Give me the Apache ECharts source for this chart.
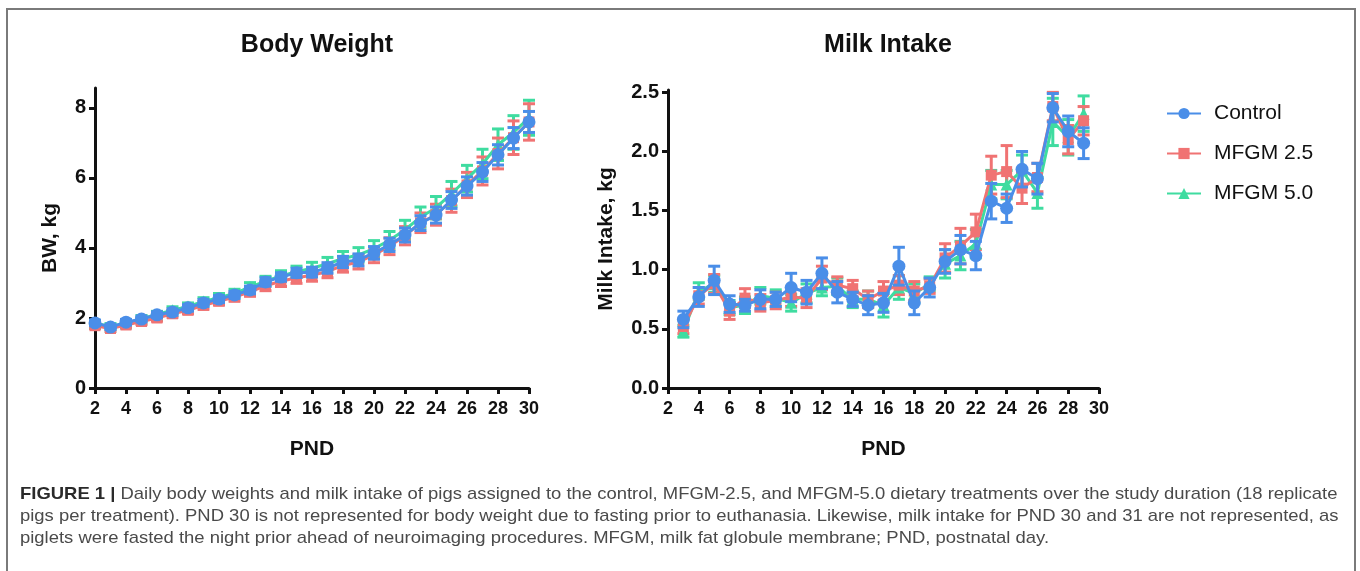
<!DOCTYPE html>
<html>
<head>
<meta charset="utf-8">
<script src="https://cdn.jsdelivr.net/npm/echarts@6/dist/echarts.min.js"></script>
<style>
  html,body{margin:0;padding:0;background:#fff;}
  #chart{width:1360px;height:571px;}
</style>
</head>
<body>
<div id="chart"></div>
<script>
// PND days
var bwDays = [2,3,4,5,6,7,8,9,10,11,12,13,14,15,16,17,18,19,20,21,22,23,24,25,26,27,28,29,30];
var milkDays = [3,4,5,6,7,8,9,10,11,12,13,14,15,16,17,18,19,20,21,22,23,24,25,26,27,28,29];

// body weight, kg (mean / sem)
var bwControl = [1.86,1.74,1.88,1.97,2.09,2.17,2.29,2.43,2.54,2.66,2.80,3.03,3.17,3.29,3.31,3.43,3.60,3.66,3.86,4.09,4.37,4.71,4.94,5.37,5.77,6.17,6.66,7.14,7.60];
var bwControlErr = [0.08,0.07,0.08,0.08,0.08,0.09,0.09,0.10,0.10,0.10,0.11,0.12,0.12,0.13,0.14,0.15,0.16,0.17,0.18,0.19,0.20,0.21,0.23,0.24,0.26,0.27,0.29,0.30,0.30];
var bwMfgm25 = [1.78,1.70,1.80,1.90,2.00,2.12,2.22,2.36,2.48,2.60,2.75,2.92,3.05,3.15,3.22,3.33,3.50,3.60,3.80,4.05,4.35,4.72,4.95,5.35,5.80,6.20,6.70,7.15,7.60];
var bwMfgm25Err = [0.08,0.08,0.08,0.09,0.09,0.10,0.10,0.11,0.11,0.12,0.13,0.14,0.15,0.16,0.17,0.18,0.19,0.20,0.22,0.24,0.26,0.28,0.30,0.33,0.36,0.40,0.44,0.48,0.52];
var bwMfgm50 = [1.85,1.76,1.84,1.98,2.10,2.22,2.33,2.47,2.58,2.70,2.88,3.05,3.20,3.32,3.42,3.55,3.70,3.80,3.98,4.22,4.52,4.88,5.15,5.55,5.98,6.40,6.95,7.30,7.72];
var bwMfgm50Err = [0.08,0.08,0.09,0.09,0.09,0.10,0.10,0.11,0.12,0.12,0.13,0.14,0.15,0.16,0.17,0.18,0.20,0.21,0.23,0.25,0.27,0.29,0.32,0.35,0.38,0.42,0.45,0.48,0.50];

// milk intake, kg (mean / sem)
var milkControl = [0.58,0.77,0.91,0.71,0.70,0.75,0.75,0.85,0.81,0.97,0.81,0.75,0.70,0.72,1.03,0.72,0.85,1.07,1.17,1.12,1.58,1.52,1.85,1.77,2.37,2.17,2.07];
var milkControlErr = [0.07,0.08,0.12,0.07,0.05,0.08,0.06,0.12,0.10,0.13,0.09,0.06,0.08,0.08,0.16,0.10,0.08,0.10,0.12,0.12,0.15,0.12,0.15,0.13,0.12,0.13,0.13];
var milkMfgm25 = [0.52,0.78,0.88,0.65,0.76,0.72,0.74,0.77,0.76,0.93,0.87,0.84,0.75,0.82,0.87,0.82,0.86,1.10,1.20,1.32,1.80,1.83,1.69,1.78,2.38,2.10,2.26];
var milkMfgm25Err = [0.06,0.07,0.08,0.07,0.08,0.07,0.07,0.08,0.08,0.10,0.07,0.07,0.07,0.08,0.08,0.08,0.06,0.12,0.15,0.15,0.16,0.22,0.13,0.12,0.12,0.12,0.12];
var milkMfgm50 = [0.48,0.82,0.88,0.68,0.70,0.78,0.76,0.72,0.80,0.85,0.86,0.75,0.75,0.70,0.85,0.80,0.88,1.05,1.12,1.22,1.72,1.72,1.84,1.65,2.25,2.12,2.32];
var milkMfgm50Err = [0.05,0.07,0.07,0.06,0.07,0.07,0.07,0.07,0.08,0.07,0.07,0.07,0.07,0.10,0.10,0.08,0.06,0.12,0.12,0.12,0.12,0.12,0.13,0.13,0.20,0.15,0.15];

var bwTicks = [0,2,4,6,8];
var milkTicks = [0,0.5,1.0,1.5,2.0,2.5];

var FONT = '"Liberation Sans", Arial, Helvetica, sans-serif';
var cBlue = '#4a8ee8', cRed = '#f07373', cGreen = '#3fdca0';

function pts(days, vals){
  var out = [];
  for (var i = 0; i < days.length; i++) out.push([days[i], vals[i]]);
  return out;
}
function bars(days, vals, errs){
  var out = [];
  for (var i = 0; i < days.length; i++) out.push([days[i], vals[i] - errs[i], vals[i] + errs[i]]);
  return out;
}
// error bar with caps
function errRender(color){
  return function(params, api){
    var x = api.value(0);
    var lo = api.coord([x, api.value(1)]);
    var hi = api.coord([x, api.value(2)]);
    var w = 6;
    var st = {stroke: color, lineWidth: 3};
    return {type: 'group', children: [
      {type: 'line', shape: {x1: lo[0], y1: lo[1], x2: hi[0], y2: hi[1]}, style: st},
      {type: 'line', shape: {x1: lo[0]-w, y1: lo[1], x2: lo[0]+w, y2: lo[1]}, style: st},
      {type: 'line', shape: {x1: hi[0]-w, y1: hi[1], x2: hi[0]+w, y2: hi[1]}, style: st}
    ]};
  };
}
function errSeries(name, idx, data, color, z){
  return {name: name, type: 'custom', xAxisIndex: idx, yAxisIndex: idx, data: data,
    renderItem: errRender(color), z: z, silent: true};
}
function lineSeries(name, idx, data, color, symbol, size, z){
  return {name: name, type: 'line', xAxisIndex: idx, yAxisIndex: idx, data: data,
    symbol: symbol, symbolSize: size, z: z,
    lineStyle: {color: color, width: 3}, itemStyle: {color: color}};
}
function xAxisOpt(idx){
  return {type: 'value', gridIndex: idx, min: 2, max: 30, interval: 2,
    name: 'PND', nameLocation: 'middle', nameGap: 51,
    nameTextStyle: {fontFamily: FONT, fontWeight: 'bold', fontSize: 21, color: '#111'},
    axisLine: {lineStyle: {color: '#111', width: 3}},
    axisTick: {length: 6, lineStyle: {color: '#111', width: 3}},
    axisLabel: {fontFamily: FONT, fontWeight: 'bold', fontSize: 18, color: '#111', margin: 12},
    splitLine: {show: false}};
}
function yAxisOpt(idx, name, max, ticks, gap, fmt){
  return {type: 'value', gridIndex: idx, min: 0, max: max,
    name: name, nameLocation: 'middle', nameGap: gap,
    nameTextStyle: {fontFamily: FONT, fontWeight: 'bold', fontSize: 21, color: '#111'},
    axisLine: {show: true, lineStyle: {color: '#111', width: 3}},
    axisTick: {show: true, length: 6, customValues: ticks, lineStyle: {color: '#111', width: 3}},
    axisLabel: {customValues: ticks, fontFamily: FONT, fontWeight: 'bold', fontSize: 20, color: '#111', margin: 9, formatter: fmt},
    splitLine: {show: false}};
}

var caption1 = 'Daily body weights and milk intake of pigs assigned to the control, MFGM-2.5, and MFGM-5.0 dietary treatments over the study duration (18 replicate';
var caption2 = 'pigs per treatment). PND 30 is not represented for body weight due to fasting prior to euthanasia. Likewise, milk intake for PND 30 and 31 are not represented, as';
var caption3 = 'piglets were fasted the night prior ahead of neuroimaging procedures. MFGM, milk fat globule membrane; PND, postnatal day.';

function captionLine(txt, top){
  return {type: 'text', x: 20, y: top, scaleX: 1.085, silent: true, style: {
    text: txt,
    rich: {b: {fontFamily: FONT, fontWeight: 'bold', fontSize: 17, fill: '#2a2a2a'}},
    fontFamily: FONT, fontSize: 17, fill: '#4a4a4a'}};
}

var chart = echarts.init(document.getElementById('chart'));
var option = {
  animation: false,
  backgroundColor: '#fff',
  title: [
    {text: 'Body Weight', left: 312, top: 28, textAlign: 'center',
      textStyle: {fontFamily: FONT, fontWeight: 'bold', fontSize: 25, color: '#111'}},
    {text: 'Milk Intake', left: 883, top: 28, textAlign: 'center',
      textStyle: {fontFamily: FONT, fontWeight: 'bold', fontSize: 25, color: '#111'}}
  ],
  legend: {
    data: ['Control', 'MFGM 2.5', 'MFGM 5.0'],
    orient: 'vertical', left: 1161, top: 98, itemGap: 19,
    itemWidth: 34, itemHeight: 14,
    textStyle: {fontFamily: FONT, fontSize: 21, color: '#111', padding: [0, 0, 0, 8]}
  },
  grid: [
    {left: 95, top: 88, width: 434, height: 300},
    {left: 668, top: 90, width: 431, height: 298}
  ],
  xAxis: [xAxisOpt(0), xAxisOpt(1)],
  yAxis: [
    yAxisOpt(0, 'BW, kg', 8.57, bwTicks, 34, function(v){ return String(v); }),
    yAxisOpt(1, 'Milk Intake, kg', 2.52, milkTicks, 51, function(v){ return v.toFixed(1); })
  ],
  graphic: [
    {type: 'rect', shape: {x: 7, y: 9, width: 1348, height: 700},
      style: {fill: 'none', stroke: '#7a7a7a', lineWidth: 2}, silent: true},
    captionLine('{b|FIGURE 1 |} ' + caption1, 486),
    captionLine(caption2, 508),
    captionLine(caption3, 530)
  ],
  series: [
    errSeries('err50a', 0, bars(bwDays, bwMfgm50, bwMfgm50Err), cGreen, 2),
    errSeries('err25a', 0, bars(bwDays, bwMfgm25, bwMfgm25Err), cRed, 3),
    lineSeries('MFGM 5.0', 0, pts(bwDays, bwMfgm50), cGreen, 'triangle', 12, 4),
    lineSeries('MFGM 2.5', 0, pts(bwDays, bwMfgm25), cRed, 'rect', 11, 5),
    errSeries('errCa', 0, bars(bwDays, bwControl, bwControlErr), cBlue, 6),
    lineSeries('Control', 0, pts(bwDays, bwControl), cBlue, 'circle', 13, 7),

    errSeries('err50b', 1, bars(milkDays, milkMfgm50, milkMfgm50Err), cGreen, 2),
    errSeries('err25b', 1, bars(milkDays, milkMfgm25, milkMfgm25Err), cRed, 3),
    lineSeries('MFGM 5.0', 1, pts(milkDays, milkMfgm50), cGreen, 'triangle', 12, 4),
    lineSeries('MFGM 2.5', 1, pts(milkDays, milkMfgm25), cRed, 'rect', 11, 5),
    errSeries('errCb', 1, bars(milkDays, milkControl, milkControlErr), cBlue, 6),
    lineSeries('Control', 1, pts(milkDays, milkControl), cBlue, 'circle', 13, 7)
  ]
};
chart.setOption(option);
</script>
</body>
</html>
